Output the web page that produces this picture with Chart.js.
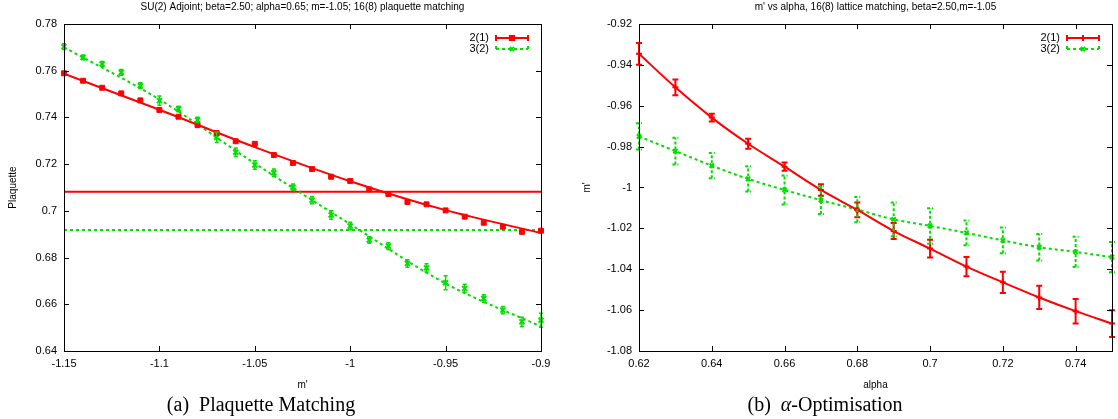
<!DOCTYPE html>
<html>
<head>
<meta charset="utf-8">
<script src="https://cdn.jsdelivr.net/npm/chart.js@4.4.1/dist/chart.umd.min.js"></script>
<style>
body{margin:0;background:#fff}
#wrap{position:relative;width:1118px;height:419px;overflow:hidden}
canvas{position:absolute;top:0}
.cap{position:absolute;top:393px;font-family:"Liberation Serif","Times New Roman",serif;font-size:20px;line-height:22px;white-space:nowrap;transform:translateX(-50%)}
</style>
</head>
<body>
<div id="wrap">
  <canvas id="plaq" width="559" height="395" style="left:0"></canvas>
  <canvas id="alpha" width="559" height="395" style="left:559px"></canvas>
  <div class="cap" style="left:261px">(a)&nbsp; Plaquette Matching</div>
  <div class="cap" style="left:825px">(b)&nbsp; <i>α</i>-Optimisation</div>
</div>
<script>
// ---- (a) plaquette matching ----
const mPrime = [-1.15,-1.14,-1.13,-1.12,-1.11,-1.10,-1.09,-1.08,-1.07,-1.06,-1.05,-1.04,-1.03,
                -1.02,-1.01,-1.00,-0.99,-0.98,-0.97,-0.96,-0.95,-0.94,-0.93,-0.92,-0.91,-0.90];
const plaqRed = [0.7589,0.7557,0.7527,0.7503,0.7473,0.7432,0.7403,0.7367,0.7333,0.7298,0.7287,0.7239,0.7205,
                 0.7179,0.7146,0.7128,0.7092,0.7072,0.7038,0.7028,0.7002,0.6975,0.6949,0.6932,0.6910,0.6915];
const plaqRedErr = [0.0004,0.0004,0.0003,0.0004,0.0004,0.0004,0.0003,0.0004,0.0004,0.0004,0.0005,0.0004,0.0004,
                    0.0004,0.0004,0.0004,0.0004,0.0004,0.0005,0.0004,0.0004,0.0004,0.0004,0.0004,0.0004,0.0005];
const plaqGreen = [0.7703,0.7657,0.7629,0.7593,0.7536,0.7472,0.7436,0.7389,0.7315,0.7251,0.7196,0.7163,0.7101,
                   0.7046,0.6982,0.6935,0.6875,0.6849,0.6775,0.6756,0.6692,0.6668,0.6625,0.6575,0.6525,0.6532];
const plaqGreenErr = [0.0012,0.0010,0.0010,0.0012,0.0012,0.0020,0.0012,0.0012,0.0022,0.0018,0.0018,0.0016,0.0014,
                      0.0016,0.0018,0.0016,0.0014,0.0014,0.0016,0.0018,0.0030,0.0018,0.0016,0.0016,0.0020,0.0030];
// fitted curves
const fitM = [-1.15,-1.10,-1.05,-1.00,-0.95,-0.90];
const fitRed = [0.7587,0.7433,0.7273,0.7127,0.7003,0.6905];
const fitGreen = [0.7700,0.7477,0.7203,0.6943,0.6689,0.6505];
const matchRed = 0.7082;
const matchGreen = 0.6918;
const xTicksA = [-1.15,-1.1,-1.05,-1,-0.95,-0.9];
const yTicksA = [0.64,0.66,0.68,0.7,0.72,0.74,0.76,0.78];

// ---- (b) alpha optimisation ----
const alphas = [0.62,0.63,0.64,0.65,0.66,0.67,0.68,0.69,0.70,0.71,0.72,0.73,0.74,0.75];
const mRed = [-0.9346,-0.9510,-0.9658,-0.9786,-0.9898,-1.0012,-1.0110,-1.0213,-1.0299,-1.0387,-1.0464,-1.0538,-1.0605,-1.0666];
const mRedErr = [0.0053,0.0039,0.0019,0.0024,0.0020,0.0028,0.0036,0.0039,0.0043,0.0047,0.0052,0.0057,0.0060,0.0065];
const mGreen = [-0.9750,-0.9822,-0.9893,-0.9958,-1.0012,-1.0062,-1.0108,-1.0156,-1.0188,-1.0222,-1.0259,-1.0292,-1.0315,-1.0341];
const mGreenErr = [0.0064,0.0066,0.0062,0.0062,0.0071,0.0068,0.0062,0.0082,0.0087,0.0061,0.0063,0.0065,0.0074,0.0074];
const xTicksB = [0.62,0.64,0.66,0.68,0.7,0.72,0.74];
const yTicksB = [-1.08,-1.06,-1.04,-1.02,-1,-0.98,-0.96,-0.94,-0.92];

const seriesNames = ['2(1)','3(2)'];
const RED = '#ff0000', GREEN = '#00e000';
const SANS = '"Liberation Sans", Arial, sans-serif';
const NARROW = '"Liberation Sans Narrow", "Liberation Sans", Arial, sans-serif';

const pts = (xs, ys) => xs.map((v, i) => ({x: v, y: ys[i]}));
const fmt = v => String(+v.toFixed(3));

// gnuplot look: frame, inward mirrored ticks, error bars, inset key, title
const gp = {
  id: 'gp',
  afterDatasetsDraw(chart, args, o) {
    const {ctx, chartArea: a, scales: {x, y}} = chart;
    ctx.save();
    chart.data.datasets.forEach((ds, i) => {
      if (!ds.err) return;
      ctx.strokeStyle = ds.borderColor;
      ctx.lineWidth = o.barWidth;
      ctx.setLineDash(ds.errDash || []);
      ds.data.forEach((p, j) => {
        const px = x.getPixelForValue(p.x);
        const y0 = y.getPixelForValue(p.y - ds.err[j]);
        const y1 = y.getPixelForValue(p.y + ds.err[j]);
        ctx.beginPath();
        ctx.moveTo(px, y0); ctx.lineTo(px, y1);
        ctx.moveTo(px - o.cap, y0); ctx.lineTo(px + o.cap, y0);
        ctx.moveTo(px - o.cap, y1); ctx.lineTo(px + o.cap, y1);
        ctx.stroke();
      });
    });
    ctx.setLineDash([]);

    ctx.strokeStyle = '#000';
    ctx.lineWidth = 1;
    ctx.strokeRect(Math.round(a.left) + 0.5, Math.round(a.top) + 0.5, Math.round(a.width), Math.round(a.height));
    ctx.beginPath();
    x.ticks.forEach(t => {
      const px = Math.round(x.getPixelForValue(t.value)) + 0.5;
      ctx.moveTo(px, a.bottom); ctx.lineTo(px, a.bottom - 5);
      ctx.moveTo(px, a.top); ctx.lineTo(px, a.top + 5);
    });
    y.ticks.forEach(t => {
      const py = Math.round(y.getPixelForValue(t.value)) + 0.5;
      ctx.moveTo(a.left, py); ctx.lineTo(a.left + 5, py);
      ctx.moveTo(a.right, py); ctx.lineTo(a.right - 5, py);
    });
    ctx.stroke();

    // key
    ctx.font = '11px ' + SANS;
    ctx.textAlign = 'right';
    ctx.textBaseline = 'middle';
    o.key.forEach((k, i) => {
      const ky = a.top + 14 + i * 11;
      const x1 = a.right - 45, x2 = a.right - 13;
      ctx.fillStyle = '#000';
      ctx.fillText(k.label, a.right - 52, ky);
      ctx.strokeStyle = k.color;
      ctx.fillStyle = k.color;
      ctx.lineWidth = 2;
      ctx.setLineDash(k.dash);
      ctx.beginPath();
      ctx.moveTo(x1, ky); ctx.lineTo(x2, ky);
      ctx.moveTo(x1, ky - 3); ctx.lineTo(x1, ky + 3);
      ctx.moveTo(x2, ky - 3); ctx.lineTo(x2, ky + 3);
      ctx.stroke();
      ctx.setLineDash([]);
      Chart.helpers.drawPoint(ctx, {pointStyle: k.style, radius: 3, borderWidth: 2, rotation: 0}, (x1 + x2) / 2, ky);
    });

    ctx.fillStyle = '#000';
    ctx.font = '10px ' + SANS;
    ctx.textAlign = 'center';
    ctx.fillText(o.title, (a.left + a.right) / 2, 7);
    ctx.restore();
  }
};

function axes(xmin, xmax, ymin, ymax, xt, yt, xTitle, yTitle, yWidth, yTitlePad) {
  return {
    x: {
      type: 'linear', min: xmin, max: xmax,
      afterBuildTicks: s => { s.ticks = xt.map(v => ({value: v})); },
      afterFit: s => { s.height = 44; },
      grid: {display: false, drawTicks: false},
      border: {display: false},
      ticks: {callback: fmt, color: '#000', padding: 6, maxRotation: 0, font: {family: NARROW, size: 11}},
      title: {display: true, text: xTitle, color: '#000', font: {family: NARROW, size: 10}, padding: {top: 0, bottom: 4}}
    },
    y: {
      type: 'linear', min: ymin, max: ymax,
      afterBuildTicks: s => { s.ticks = yt.map(v => ({value: v})); },
      afterFit: s => { s.width = yWidth; },
      grid: {display: false, drawTicks: false},
      border: {display: false},
      ticks: {callback: fmt, color: '#000', padding: 7, font: {family: SANS, size: 11}},
      title: {display: true, text: yTitle, color: '#000', font: {family: SANS, size: 10}, padding: {top: yTitlePad, bottom: 0}}
    }
  };
}

const common = (padRight) => ({
  responsive: false,
  animation: false,
  events: [],
  layout: {padding: {top: 24, right: padRight, bottom: 0, left: 0}},
  plugins: {legend: {display: false}, tooltip: {enabled: false}}
});

// (a)
const optsA = common(18);
optsA.scales = axes(-1.15, -0.9, 0.64, 0.78, xTicksA, yTicksA, "m'", 'Plaquette', 64, 7);
optsA.plugins.gp = {
  title: 'SU(2) Adjoint; beta=2.50; alpha=0.65; m=-1.05; 16(8) plaquette matching',
  barWidth: 1.5, cap: 2,
  key: [{label: seriesNames[0], color: RED, dash: [], style: 'rect'},
        {label: seriesNames[1], color: GREEN, dash: [3, 3], style: 'crossRot'}]
};
new Chart(document.getElementById('plaq'), {
  type: 'scatter',
  data: {datasets: [
    {data: pts(mPrime, plaqRed), err: plaqRedErr, borderColor: RED, backgroundColor: RED,
     pointStyle: 'rect', pointRadius: 3.5, borderWidth: 1, clip: false},
    {data: pts(mPrime, plaqGreen), err: plaqGreenErr, borderColor: GREEN, backgroundColor: GREEN,
     pointStyle: 'crossRot', pointRadius: 3.5, borderWidth: 2, clip: false},
    {data: pts(fitM, fitRed), showLine: true, pointRadius: 0, borderColor: RED, borderWidth: 2,
     cubicInterpolationMode: 'monotone'},
    {data: pts(fitM, fitGreen), showLine: true, pointRadius: 0, borderColor: GREEN, borderWidth: 2,
     borderDash: [3, 3], cubicInterpolationMode: 'monotone'},
    {data: [{x: -1.15, y: matchRed}, {x: -0.9, y: matchRed}], showLine: true, pointRadius: 0,
     borderColor: RED, borderWidth: 2},
    {data: [{x: -1.15, y: matchGreen}, {x: -0.9, y: matchGreen}], showLine: true, pointRadius: 0,
     borderColor: GREEN, borderWidth: 2, borderDash: [3, 3]}
  ]},
  options: optsA,
  plugins: [gp]
});

// (b)
const optsB = common(2);
optsB.scales = axes(0.62, 0.75, -1.08, -0.92, xTicksB, yTicksB, 'alpha', "m'", 80, 22);
optsB.plugins.gp = {
  title: "m' vs alpha, 16(8) lattice matching, beta=2.50,m=-1.05",
  barWidth: 2, cap: 3,
  key: [{label: seriesNames[0], color: RED, dash: [], style: 'cross'},
        {label: seriesNames[1], color: GREEN, dash: [3, 3], style: 'crossRot'}]
};
new Chart(document.getElementById('alpha'), {
  type: 'scatter',
  data: {datasets: [
    {data: pts(alphas, mRed), err: mRedErr, showLine: true, borderColor: RED, backgroundColor: RED,
     borderWidth: 2, pointStyle: 'cross', pointRadius: 3, cubicInterpolationMode: 'monotone', clip: false},
    {data: pts(alphas, mGreen), err: mGreenErr, errDash: [3, 2], showLine: true, borderColor: GREEN,
     backgroundColor: GREEN, borderWidth: 2, borderDash: [3, 3], pointStyle: 'crossRot', pointRadius: 3,
     cubicInterpolationMode: 'monotone', clip: false}
  ]},
  options: optsB,
  plugins: [gp]
});
</script>
</body>
</html>
